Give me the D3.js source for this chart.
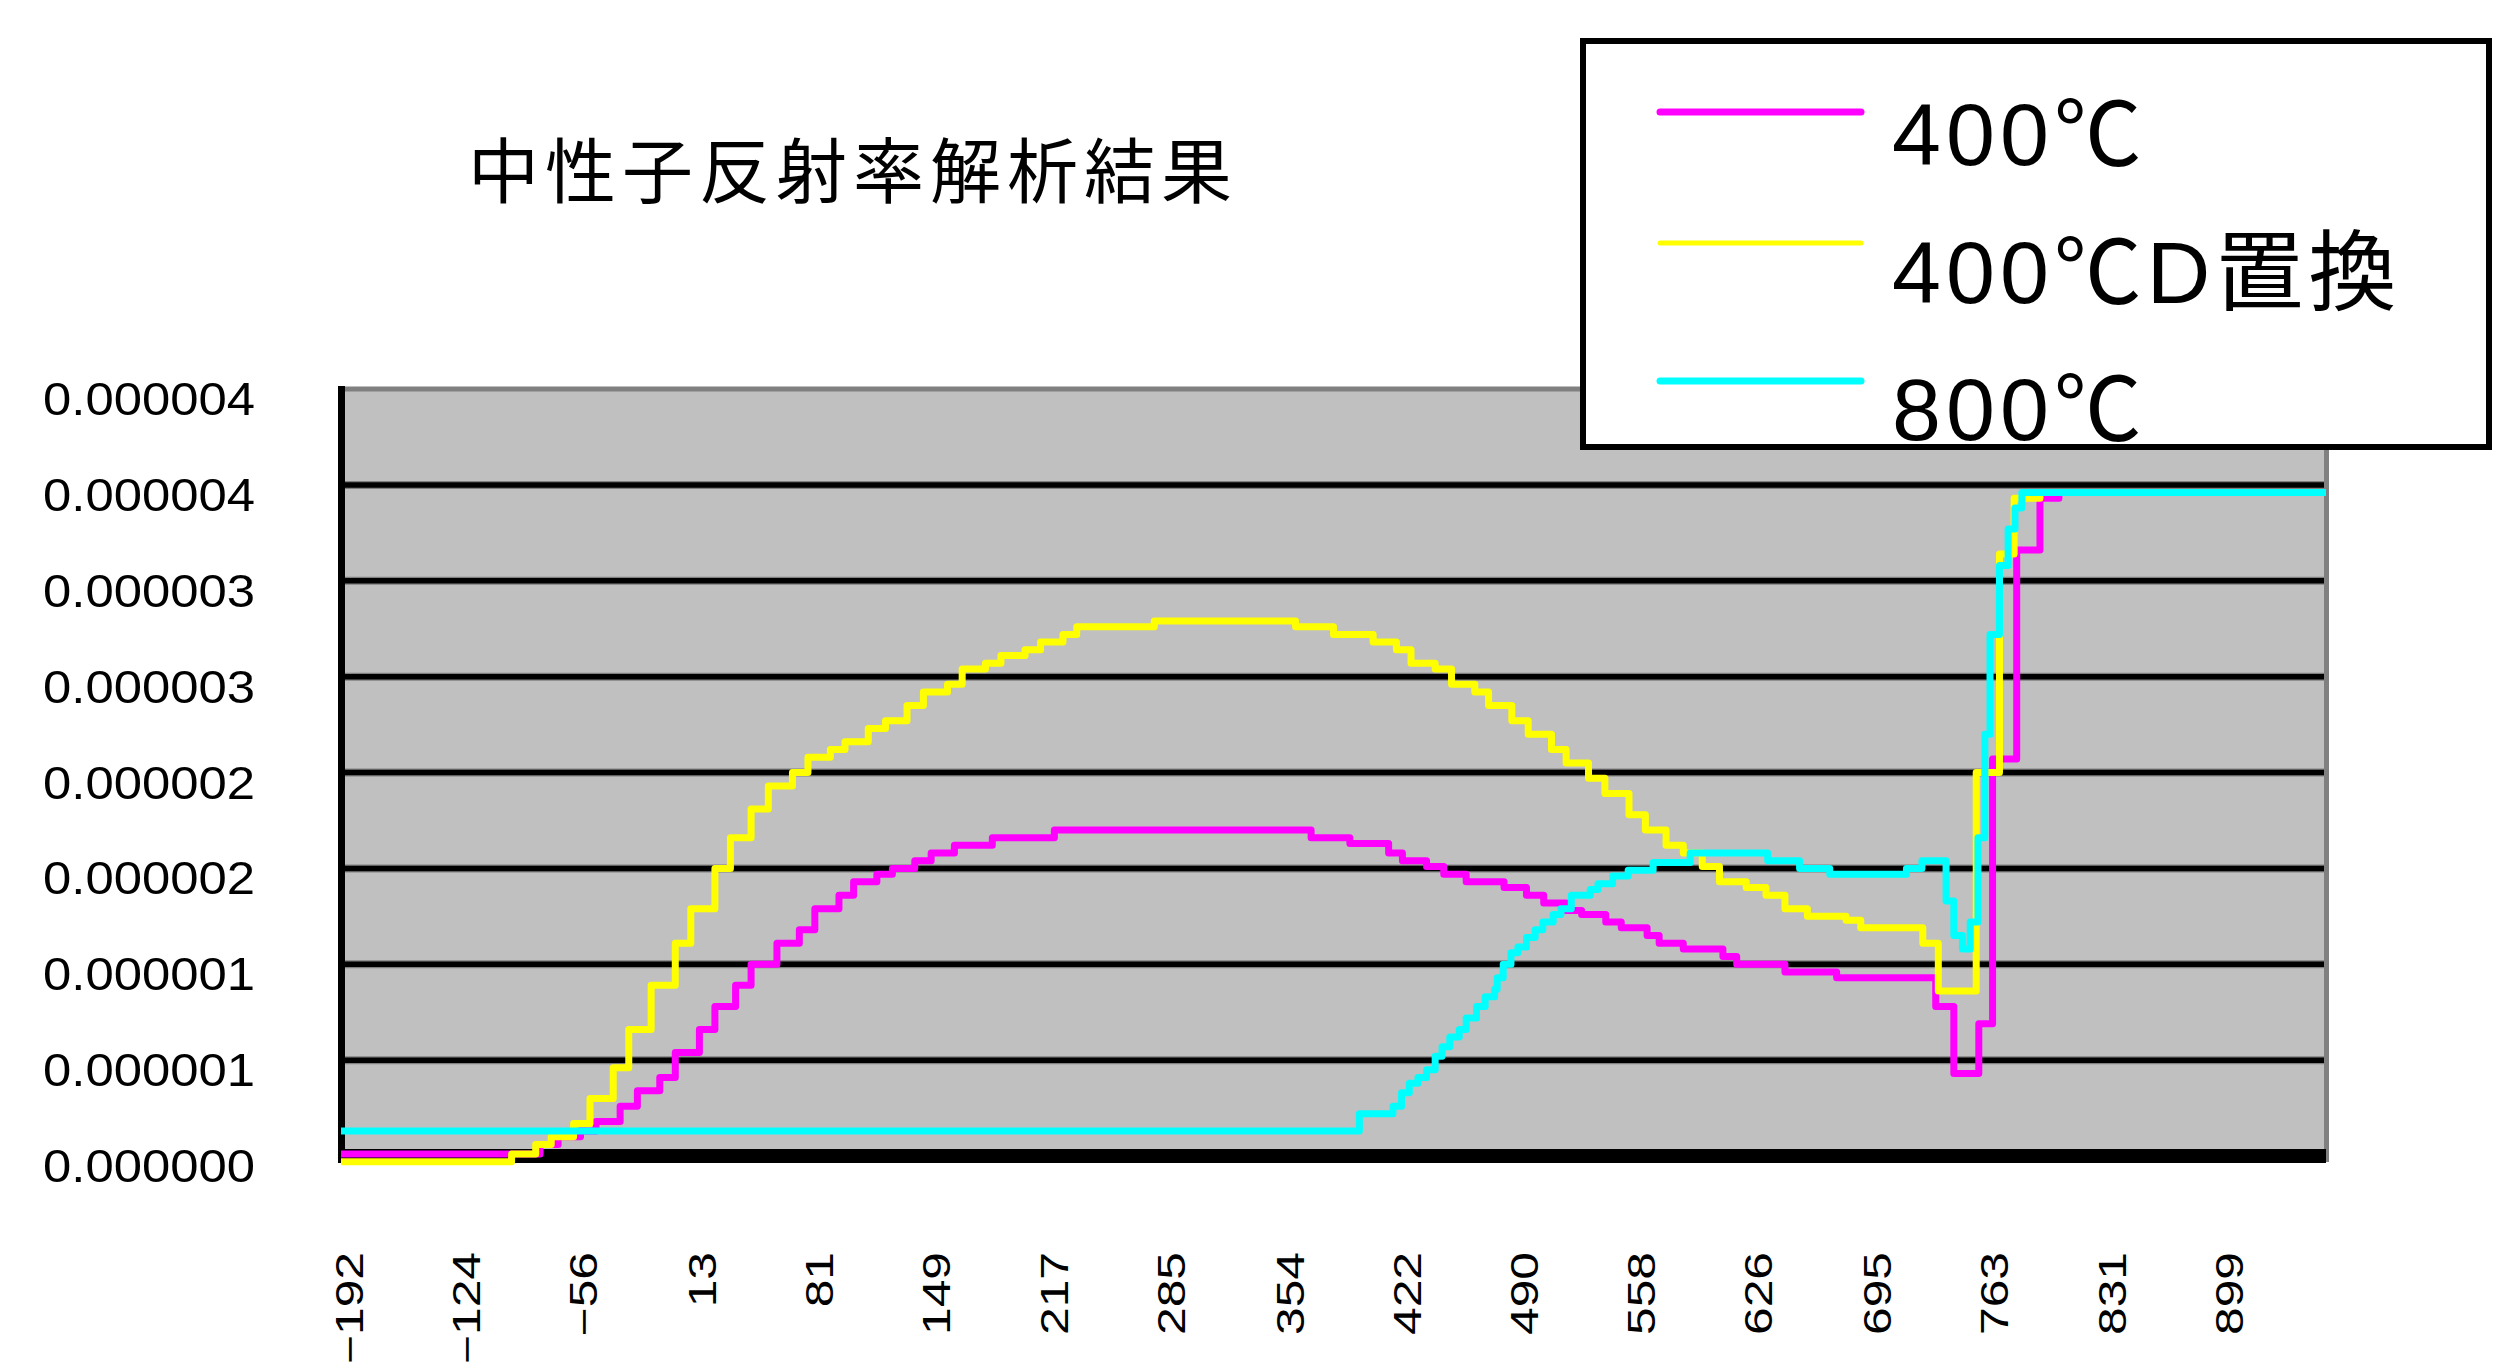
<!DOCTYPE html>
<html>
<head>
<meta charset="utf-8">
<script src="https://cdn.jsdelivr.net/npm/d3@7"></script>
<style>
  html, body { margin: 0; padding: 0; background: #fff; }
  svg { display: block; }
</style>
</head>
<body>
<svg id="chart" width="2512" height="1365"></svg>
<script>
// ---- data ----------------------------------------------------------------
const chartTitle = "中性子反射率解析結果";
const seriesNames = ["400℃", "400℃D置換", "800℃"];
const seriesColors = ["#ff00ff", "#ffff00", "#00ffff"];

// category labels along the depth axis
const xTickValues = [-192, -124, -56, 13, 81, 149, 217, 285, 354, 422, 490, 558, 626, 695, 763, 831, 899];
const depthExtent = [-197, 955];

// value axis (values stored in units of 1e-6)
const VALUE_UNIT = 1e-6;
const yTickValues = [0, 0.5, 1, 1.5, 2, 2.5, 3, 3.5, 4];
const yTickLabels = ["0.000000", "0.000001", "0.000001", "0.000002", "0.000002",
                     "0.000003", "0.000003", "0.000004", "0.000004"];

// step profiles: [depth, value], each value holds until the next depth
const profile400 = [
  [-197, 0.01], [-81.5, 0.06], [-71, 0.10], [-58, 0.13], [-49, 0.18], [-35, 0.26],
  [-25, 0.34], [-12, 0.41], [-3, 0.54], [11, 0.66], [20, 0.78], [32, 0.89],
  [41, 1.00], [56, 1.11], [69, 1.18], [78, 1.29], [92, 1.36], [100.5, 1.43],
  [114, 1.47], [123, 1.50], [136, 1.54], [145.5, 1.58], [159, 1.62], [181, 1.66],
  [217, 1.70], [366, 1.66], [388.5, 1.63], [411, 1.58], [419, 1.54], [433, 1.51],
  [443, 1.47], [456, 1.43], [478, 1.40], [491, 1.36], [501, 1.32], [514, 1.28],
  [523, 1.26], [537, 1.22], [546, 1.19], [561, 1.15], [568, 1.11], [582, 1.08],
  [605, 1.04], [613, 1.00], [641, 0.96], [671, 0.93], [728.5, 0.78], [739, 0.43],
  [753.5, 0.69], [761.5, 2.07], [775.5, 3.16], [789, 3.43], [800, 3.46], [955, 3.46]
];

const profile400D = [
  [-197, -0.03], [-98, 0.01], [-84, 0.06], [-75, 0.10], [-62, 0.17], [-52.5, 0.30],
  [-39, 0.46], [-30, 0.66], [-17, 0.89], [-3, 1.11], [6, 1.29], [20, 1.50],
  [29, 1.66], [41, 1.81], [51, 1.93], [65, 2.00], [74, 2.08], [87, 2.12],
  [95.5, 2.16], [109, 2.23], [119, 2.27], [131.5, 2.35], [141, 2.42], [155, 2.46],
  [163.5, 2.54], [177, 2.57], [186, 2.61], [200, 2.64], [209, 2.68], [222, 2.72],
  [230, 2.76], [275, 2.79], [357, 2.76], [379, 2.72], [402, 2.68], [415.5, 2.64],
  [424, 2.57], [438, 2.54], [447.5, 2.46], [461, 2.42], [469, 2.35], [482.5, 2.27],
  [492, 2.20], [505.5, 2.12], [514, 2.05], [527, 1.97], [536.5, 1.89], [550.5, 1.78],
  [560, 1.70], [572, 1.62], [582, 1.58], [593, 1.51], [603, 1.43], [618.5, 1.40],
  [630, 1.36], [641, 1.29], [654, 1.25], [676.5, 1.23], [685, 1.19], [721, 1.11],
  [730, 0.86], [752, 2.00], [765.5, 3.14], [774, 3.43], [789, 3.46], [955, 3.46]
];

const profile800 = [
  [-197, 0.13], [394, 0.22], [413.5, 0.26], [418.5, 0.33], [423, 0.38], [428, 0.41],
  [433, 0.45], [438, 0.52], [442, 0.57], [446.5, 0.62], [452, 0.66], [456, 0.72],
  [462, 0.78], [467, 0.83], [472.5, 0.87], [474, 0.93], [477.5, 1.00], [482, 1.06],
  [486, 1.09], [491, 1.14], [496, 1.18], [500.5, 1.22], [506.5, 1.26], [511, 1.29],
  [517, 1.36], [528, 1.39], [532.5, 1.42], [541, 1.46], [550, 1.49], [564.5, 1.53],
  [586, 1.58], [631, 1.54], [649.5, 1.50], [667, 1.47], [711.5, 1.50], [720.5, 1.54],
  [734.5, 1.33], [739, 1.15], [744, 1.08], [748.5, 1.22], [753, 1.66], [757, 2.20],
  [760, 2.72], [765.5, 3.08], [770.5, 3.27], [774.5, 3.38], [778.5, 3.46], [955, 3.46]
];

const profiles = [profile400, profile400D, profile800];

// ---- layout ----------------------------------------------------------------
const plot = { left: 341, right: 2326, top: 389, bottom: 1156 };
const numFont = "'Liberation Sans', Arial, 'Noto Sans CJK JP', sans-serif";
const cjkFont = "'Noto Sans CJK JP', 'Noto Sans CJK SC', sans-serif";

const svg = d3.select("#chart");

const x = d3.scaleLinear().domain(depthExtent).range([plot.left, plot.right]);
const y = d3.scaleLinear().domain([0, 4 * VALUE_UNIT]).range([plot.bottom, plot.top]);

svg.append("rect").attr("width", 2512).attr("height", 1365).attr("fill", "#ffffff");

// title
svg.append("text")
  .attr("x", 468).attr("y", 197)
  .attr("font-family", cjkFont)
  .attr("font-size", 71)
  .attr("letter-spacing", 6)
  .attr("fill", "#000")
  .text(chartTitle);

// plot area
svg.append("rect")
  .attr("x", plot.left).attr("y", plot.top)
  .attr("width", plot.right - plot.left)
  .attr("height", plot.bottom - plot.top)
  .attr("fill", "#c0c0c0");

// horizontal gridlines
const grid = svg.append("g");
const innerTicks = yTickValues.slice(1, -1);
grid.selectAll("line.edge").data(innerTicks).join("line")
  .attr("class", "edge")
  .attr("x1", plot.left).attr("x2", plot.right)
  .attr("y1", d => y(d * VALUE_UNIT)).attr("y2", d => y(d * VALUE_UNIT))
  .attr("stroke", "#808080").attr("stroke-width", 8);
grid.selectAll("line.major").data(innerTicks).join("line")
  .attr("class", "major")
  .attr("x1", plot.left).attr("x2", plot.right)
  .attr("y1", d => y(d * VALUE_UNIT)).attr("y2", d => y(d * VALUE_UNIT))
  .attr("stroke", "#000").attr("stroke-width", 5.5);

// frame: grey top/right, heavy black left/bottom axes
svg.append("line")
  .attr("x1", plot.left - 3).attr("x2", plot.right + 3)
  .attr("y1", plot.top).attr("y2", plot.top)
  .attr("stroke", "#808080").attr("stroke-width", 5);
svg.append("line")
  .attr("x1", plot.right + 0.5).attr("x2", plot.right + 0.5)
  .attr("y1", plot.top - 2).attr("y2", plot.bottom + 6)
  .attr("stroke", "#808080").attr("stroke-width", 5);
svg.append("line")
  .attr("x1", plot.left + 0.5).attr("x2", plot.left + 0.5)
  .attr("y1", plot.top - 3).attr("y2", plot.bottom + 7)
  .attr("stroke", "#000").attr("stroke-width", 7);
svg.append("line")
  .attr("x1", plot.left - 3).attr("x2", plot.right)
  .attr("y1", plot.bottom).attr("y2", plot.bottom)
  .attr("stroke", "#000").attr("stroke-width", 14);

// series
const line = d3.line()
  .x(d => x(d[0]))
  .y(d => y(d[1] * VALUE_UNIT))
  .curve(d3.curveStepAfter);

svg.append("g").selectAll("path").data(profiles).join("path")
  .attr("d", line)
  .attr("fill", "none")
  .attr("stroke", (d, i) => seriesColors[i])
  .attr("stroke-width", 7)
  .attr("stroke-linejoin", "round");

// value axis labels
svg.append("g").selectAll("text").data(yTickValues).join("text")
  .attr("x", 255)
  .attr("y", d => y(d * VALUE_UNIT) + 26)
  .attr("text-anchor", "end")
  .attr("font-family", numFont)
  .attr("font-size", 46)
  .attr("textLength", 212)
  .attr("lengthAdjust", "spacingAndGlyphs")
  .attr("fill", "#000")
  .text((d, i) => yTickLabels[i]);

// depth axis labels, rotated
const fmtDepth = v => (v < 0 ? "\u2212" + (-v) : String(v));
svg.append("g").selectAll("text").data(xTickValues).join("text")
  .attr("transform", d => `translate(${x(d)},1252) rotate(-90) scale(1.31,1)`)
  .attr("text-anchor", "end")
  .attr("dominant-baseline", "central")
  .attr("font-family", numFont)
  .attr("font-size", 38)
  .attr("fill", "#000")
  .text(fmtDepth);

// legend
const legend = svg.append("g");
legend.append("rect")
  .attr("x", 1583).attr("y", 41)
  .attr("width", 906).attr("height", 406)
  .attr("fill", "#fff")
  .attr("stroke", "#000").attr("stroke-width", 6);

const legendRows = [
  { lineY: 112, textY: 165, width: 7 },
  { lineY: 243, textY: 303, width: 5 },
  { lineY: 381, textY: 440, width: 7 }
];
legend.selectAll("line.key").data(seriesNames).join("line")
  .attr("class", "key")
  .attr("x1", 1660).attr("x2", 1861)
  .attr("y1", (d, i) => legendRows[i].lineY)
  .attr("y2", (d, i) => legendRows[i].lineY)
  .attr("stroke", (d, i) => seriesColors[i])
  .attr("stroke-width", (d, i) => legendRows[i].width)
  .attr("stroke-linecap", "round");
legend.selectAll("text").data(seriesNames).join("text")
  .attr("x", 1892)
  .attr("y", (d, i) => legendRows[i].textY)
  .attr("font-family", numFont)
  .attr("font-size", 88)
  .attr("letter-spacing", 5)
  .attr("fill", "#000")
  .text(d => d);
</script>
</body>
</html>
